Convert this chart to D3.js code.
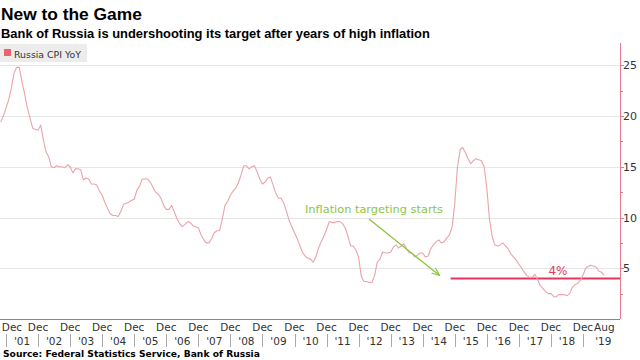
<!DOCTYPE html>
<html><head><meta charset="utf-8">
<script src="https://cdn.jsdelivr.net/npm/d3@7"></script>
<style>
html,body{margin:0;padding:0;background:#fff;}
svg{display:block;font-family:"DejaVu Sans",Verdana,sans-serif;}
.hd{font-family:"Liberation Sans",Arial,sans-serif;font-weight:bold;}
</style></head>
<body><svg id="chart" width="640" height="360"></svg>
<script>
// ---- data ----
const titleText = "New to the Game";
const subtitleText = "Bank of Russia is undershooting its target after years of high inflation";
const sourceText = "Source: Federal Statistics Service, Bank of Russia";
const seriesName = "Russia CPI YoY";
const cpiStart = "2000-10"; // first monthly observation
const cpiYoY = [
  19.4, 20.0, 20.8,                                                  // 2000 Oct-Dec
  21.6, 22.8, 24.2, 24.8, 24.8, 23.4, 22.2, 20.8, 19.8, 18.8, 18.7, 18.6, // 2001
  19.1, 17.6, 16.5, 16.0, 15.0, 14.9, 15.1, 15.0, 15.0, 14.9, 15.2, 15.0, // 2002
  14.4, 14.8, 14.8, 14.7, 13.7, 13.9, 13.8, 13.3, 13.3, 13.2, 12.6, 12.2, // 2003
  11.5, 10.9, 10.4, 10.2, 10.2, 10.1, 10.6, 11.3, 11.4, 11.5, 11.7, 11.8, // 2004
  12.7, 13.1, 13.8, 13.8, 13.8, 13.5, 13.0, 12.5, 12.3, 11.9, 11.2, 10.8, // 2005
  10.8, 11.2, 10.6, 9.9, 9.4, 9.1, 9.3, 9.6, 9.5, 9.2, 9.1, 9.0,           // 2006
  8.3, 7.8, 7.5, 7.5, 7.9, 8.5, 8.7, 8.7, 9.9, 11.2, 11.6, 12.2,           // 2007
  12.6, 12.9, 13.4, 14.2, 15.1, 15.1, 14.8, 15.0, 15.1, 14.5, 13.8, 13.3,  // 2008
  13.5, 13.9, 14.0, 13.2, 12.4, 11.9, 11.9, 11.4, 10.6, 9.7, 9.1, 8.5,     // 2009
  7.9, 7.2, 6.6, 6.2, 6.0, 5.9, 5.6, 6.1, 7.0, 7.6, 8.2, 8.8,              // 2010
  9.6, 9.5, 9.5, 9.6, 9.6, 9.4, 9.0, 8.2, 7.2, 7.2, 6.8, 6.1,              // 2011
  4.2, 3.7, 3.7, 3.6, 3.6, 4.3, 5.6, 5.9, 6.6, 6.5, 6.5, 6.6,              // 2012
  7.1, 7.3, 7.0, 7.2, 7.4, 6.9, 6.5, 6.5, 6.1, 6.3, 6.5, 6.5,              // 2013
  6.1, 6.2, 6.9, 7.3, 7.6, 7.8, 7.5, 7.6, 8.0, 8.3, 9.1, 11.4,             // 2014
  15.0, 16.7, 16.9, 16.4, 15.8, 15.3, 15.6, 15.8, 15.7, 15.6, 15.0, 12.9,  // 2015
  9.8, 8.1, 7.3, 7.2, 7.3, 7.5, 7.2, 6.9, 6.4, 6.1, 5.8, 5.4,              // 2016
  5.0, 4.6, 4.3, 4.1, 4.1, 4.4, 3.9, 3.3, 3.0, 2.7, 2.5, 2.5,              // 2017
  2.2, 2.2, 2.4, 2.4, 2.4, 2.3, 2.5, 3.1, 3.4, 3.5, 3.8, 4.3,              // 2018
  5.0, 5.2, 5.3, 5.2, 5.1, 4.7, 4.6, 4.3                                   // 2019 Jan-Aug
];
const targetValue = 4;
const targetLabel = "4%";
const targetStart = "2014-10-15";
const annotationText = "Inflation targeting starts";
const yTicks = [5, 10, 15, 20, 25];
const yearLabels = ["'01","'02","'03","'04","'05","'06","'07","'08","'09","'10","'11","'12","'13","'14","'15","'16","'17","'18","'19"];
const monthTickLabels = ["Dec","Dec","Dec","Dec","Dec","Dec","Dec","Dec","Dec","Dec","Dec","Dec","Dec","Dec","Dec","Dec","Dec","Dec","Dec","Aug"];

// ---- build ----
const parseM = d3.timeParse("%Y-%m");
const start = parseM(cpiStart);
const series = cpiYoY.map((v, i) => ({date: d3.timeMonth.offset(start, i), value: v}));
const lastDate = series[series.length - 1].date;

const svg = d3.select("#chart");
const plotTop = 43, plotBottom = 319, plotLeft = 0, plotRight = 620;

const x = d3.scaleTime()
  .domain([new Date(2000, 11, 1), new Date(2018, 11, 1)])
  .range([6, 583]);
const y = d3.scaleLinear().domain([0, 27.2]).range([plotBottom, plotTop]);

function fit(sel, w) {
  const n = sel.node();
  const len = n.getComputedTextLength();
  const fs = parseFloat(sel.attr("font-size"));
  sel.attr("font-size", (fs * w / len).toFixed(2));
}

// titles
svg.append("text").attr("class", "hd").attr("x", 1).attr("y", 20).attr("font-size", 19)
  .attr("fill", "#000").text(titleText).call(fit, 141);
svg.append("text").attr("class", "hd").attr("x", 1).attr("y", 38).attr("font-size", 15)
  .attr("fill", "#000").text(subtitleText).call(fit, 429);

// grid
const grid = svg.append("g");
const qTicks = d3.timeMonth.every(3).range(new Date(2000, 8, 1), new Date(2019, 9, 1))
  .filter(d => d.getMonth() % 3 === 2);
grid.selectAll("line.v").data(qTicks.filter(d => x(d) >= plotLeft && x(d) <= 612)).join("line")
  .attr("x1", d => Math.round(x(d)) + 0.5).attr("x2", d => Math.round(x(d)) + 0.5)
  .attr("y1", plotTop).attr("y2", plotBottom)
  .attr("stroke", "#e9e9e9").attr("stroke-width", 1);
grid.selectAll("line.h").data(yTicks).join("line")
  .attr("x1", plotLeft).attr("x2", plotRight)
  .attr("y1", d => Math.round(y(d)) + 0.5).attr("y2", d => Math.round(y(d)) + 0.5)
  .attr("stroke", "#e6e6e6").attr("stroke-width", 1);

// legend
const lg = svg.append("g");
lg.append("rect").attr("x", 0).attr("y", 44).attr("width", 87).attr("height", 18).attr("fill", "#ececec");
lg.append("rect").attr("x", 4).attr("y", 49).attr("width", 7).attr("height", 7).attr("fill", "#f0606e");
lg.append("text").attr("x", 14).attr("y", 57.5).attr("font-size", 9).attr("fill", "#333")
  .text(seriesName).call(fit, 67);

// target line
svg.append("line")
  .attr("x1", x(new Date(targetStart))).attr("x2", plotRight)
  .attr("y1", y(targetValue)).attr("y2", y(targetValue))
  .attr("stroke", "#e2375c").attr("stroke-width", 2);
svg.append("text").attr("x", 558).attr("y", y(targetValue) - 3).attr("text-anchor", "middle")
  .attr("font-size", 12).attr("fill", "#e2375c").text(targetLabel);

// CPI line
svg.append("path").datum(series)
  .attr("fill", "none").attr("stroke", "#eaa3aa").attr("stroke-width", 1.1)
  .attr("stroke-linejoin", "round")
  .attr("d", d3.line().x(d => x(d.date)).y(d => y(d.value)));

// annotation
const green = "#8cc63f";
svg.append("defs").append("marker").attr("id", "arr").attr("viewBox", "0 0 10 10")
  .attr("refX", 9).attr("refY", 5).attr("markerWidth", 8).attr("markerHeight", 8)
  .attr("orient", "auto").attr("markerUnits", "userSpaceOnUse")
  .append("path").attr("d", "M0,1 L10,5 L0,9").attr("fill", "none").attr("stroke", green).attr("stroke-width", 1.5);
svg.append("line").attr("x1", 369).attr("y1", 219).attr("x2", 439).attr("y2", 275)
  .attr("stroke", green).attr("stroke-width", 1.3).attr("marker-end", "url(#arr)");
svg.append("text").attr("x", 305).attr("y", 213).attr("font-size", 12).attr("fill", green)
  .text(annotationText).call(fit, 138);

// right axis
const axisColor = "#e57a8a";
const ra = svg.append("g");
ra.append("line").attr("x1", plotRight + 0.5).attr("x2", plotRight + 0.5).attr("y1", plotTop).attr("y2", plotBottom)
  .attr("stroke", axisColor);
const minor = d3.range(2.5, 27, 2.5);
ra.selectAll("line.t").data(minor).join("line")
  .attr("x1", plotRight).attr("x2", d => plotRight + (d % 5 === 0 ? 4 : 3))
  .attr("y1", d => Math.round(y(d)) + 0.5).attr("y2", d => Math.round(y(d)) + 0.5)
  .attr("stroke", axisColor);
ra.selectAll("text").data(yTicks).join("text")
  .attr("x", 623).attr("y", d => y(d) + 4).attr("font-size", 11).attr("fill", "#333")
  .text(d => d);

// bottom axis
const ba = svg.append("g");
ba.append("line").attr("x1", plotLeft).attr("x2", plotRight).attr("y1", plotBottom + 0.5).attr("y2", plotBottom + 0.5)
  .attr("stroke", "#888");
const decTicks = d3.range(2000, 2019).map(yr => new Date(yr, 11, 1));
ba.selectAll("line.q").data(qTicks.filter(d => x(d) >= 0 && x(d) <= 612)).join("line")
  .attr("x1", d => Math.round(x(d)) + 0.5).attr("x2", d => Math.round(x(d)) + 0.5)
  .attr("y1", plotBottom).attr("y2", plotBottom + 3).attr("stroke", "#999");
const tickDates = decTicks.concat([lastDate]);
ba.selectAll("text.m").data(tickDates).join("text")
  .attr("x", (d, i) => Math.max(x(d), 12)).attr("y", 331).attr("text-anchor", "middle")
  .attr("font-size", 10.5).attr("fill", "#333")
  .text((d, i) => monthTickLabels[i]);
ba.selectAll("line.sep").data(decTicks).join("line")
  .attr("x1", d => Math.round(x(d)) + 0.5).attr("x2", d => Math.round(x(d)) + 0.5)
  .attr("y1", 334).attr("y2", 347).attr("stroke", "#aaa");
ba.selectAll("text.y").data(yearLabels).join("text")
  .attr("x", (d, i) => i < yearLabels.length - 1 ? (x(decTicks[i]) + x(decTicks[i + 1])) / 2 : x(lastDate) - 1)
  .attr("y", 345).attr("text-anchor", "middle")
  .attr("font-size", 10.5).attr("fill", "#333").text(d => d);

// source
svg.append("text").attr("x", 3).attr("y", 357).attr("font-size", 10).attr("font-weight", "bold")
  .attr("fill", "#000").text(sourceText).call(fit, 257);
</script></body></html>
